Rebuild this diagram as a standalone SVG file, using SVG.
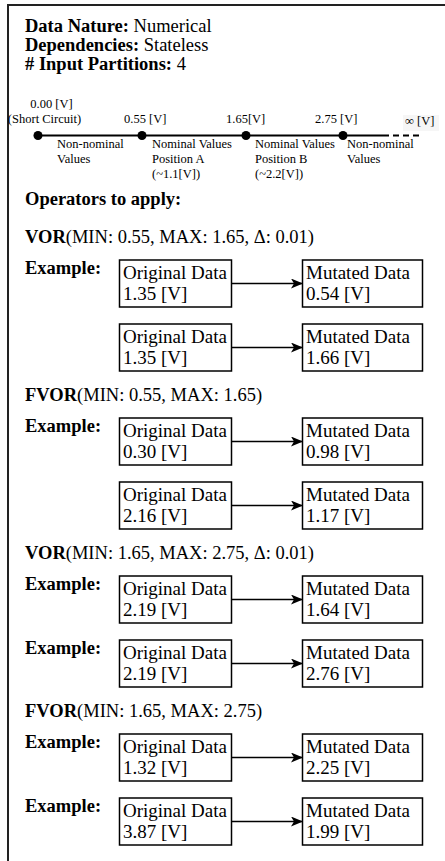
<svg xmlns="http://www.w3.org/2000/svg" width="445" height="861" viewBox="0 0 445 861">
<style>
text{font-family:"Liberation Serif","Times New Roman",serif;fill:#000}
.h{font-size:18.5px}
.s{font-size:12.5px}
.b{font-weight:bold}
.bx{fill:#fff;stroke:#000;stroke-width:1.5}
.t{font-size:19px}
.ln{stroke:#000;stroke-width:1.5;fill:none}
</style>
<defs>
<marker id="ah" viewBox="0 0 12 10" refX="11" refY="5" markerWidth="12" markerHeight="10" markerUnits="userSpaceOnUse" orient="auto">
<path d="M0,0 L12,5 L0,10 L3,5 Z" fill="#000"/>
</marker>
</defs>
<g id="frame">
<path d="M8,861 L8,5 L445,5" fill="none" stroke="#222" stroke-width="2"/>
</g>
<g id="header">
<text x="25" y="32" class="h"><tspan class="b">Data Nature:</tspan> Numerical</text>
<text x="25" y="51" class="h"><tspan class="b">Dependencies:</tspan> Stateless</text>
<text x="25" y="70" class="h"><tspan class="b"># Input Partitions:</tspan> 4</text>
</g>
<g id="numberline">
<rect x="403" y="115" width="36" height="16" fill="#f6f6f6"/>
<line x1="38" y1="135.5" x2="383" y2="135.5" stroke="#000" stroke-width="2"/>
<line x1="383" y1="135.5" x2="422" y2="135.5" stroke="#000" stroke-width="2" stroke-dasharray="6 4"/>
<circle cx="38" cy="135.5" r="4.5"/>
<circle cx="142" cy="135.5" r="4.5"/>
<circle cx="246" cy="135.5" r="4.5"/>
<circle cx="343" cy="135.5" r="4.5"/>
<text x="51.5" y="108" class="s" text-anchor="middle">0.00 [V]</text>
<text x="44.5" y="123" class="s" text-anchor="middle">(Short Circuit)</text>
<text x="124" y="123" class="s">0.55 [V]</text>
<text x="226" y="123" class="s">1.65[V]</text>
<text x="315" y="123" class="s">2.75 [V]</text>
<text x="405" y="125" class="s">∞ [V]</text>
<text x="57" y="148" class="s">Non-nominal</text>
<text x="57" y="163" class="s">Values</text>
<text x="152" y="148" class="s">Nominal Values</text>
<text x="152" y="163" class="s">Position A</text>
<text x="152" y="178" class="s">(~1.1[V])</text>
<text x="255" y="148" class="s">Nominal Values</text>
<text x="255" y="163" class="s">Position B</text>
<text x="255" y="178" class="s">(~2.2[V])</text>
<text x="347" y="148" class="s">Non-nominal</text>
<text x="347" y="163" class="s">Values</text>
</g>
<text x="25" y="205" class="h b">Operators to apply:</text>

<g id="sec1">
<text x="25" y="243" class="h"><tspan class="b">VOR</tspan>(MIN: 0.55, MAX: 1.65, Δ: 0.01)</text>
<text x="25" y="274" class="h b">Example:</text>
</g>
<g id="n1o"><rect x="119.5" y="260" width="112" height="47" class="bx"/><text x="123" y="279" class="t">Original Data</text><text x="123" y="300" class="t">1.35 [V]</text></g>
<g id="n1m"><rect x="302.5" y="260" width="120" height="47" class="bx"/><text x="306" y="279" class="t">Mutated Data</text><text x="306" y="300" class="t">0.54 [V]</text></g>
<g id="n2o"><rect x="119.5" y="324" width="112" height="47" class="bx"/><text x="123" y="343" class="t">Original Data</text><text x="123" y="364" class="t">1.35 [V]</text></g>
<g id="n2m"><rect x="302.5" y="324" width="120" height="47" class="bx"/><text x="306" y="343" class="t">Mutated Data</text><text x="306" y="364" class="t">1.66 [V]</text></g>

<g id="sec2">
<text x="25" y="401" class="h"><tspan class="b">FVOR</tspan>(MIN: 0.55, MAX: 1.65)</text>
<text x="25" y="432" class="h b">Example:</text>
</g>
<g id="n3o"><rect x="119.5" y="418" width="112" height="47" class="bx"/><text x="123" y="437" class="t">Original Data</text><text x="123" y="458" class="t">0.30 [V]</text></g>
<g id="n3m"><rect x="302.5" y="418" width="120" height="47" class="bx"/><text x="306" y="437" class="t">Mutated Data</text><text x="306" y="458" class="t">0.98 [V]</text></g>
<g id="n4o"><rect x="119.5" y="482" width="112" height="47" class="bx"/><text x="123" y="501" class="t">Original Data</text><text x="123" y="522" class="t">2.16 [V]</text></g>
<g id="n4m"><rect x="302.5" y="482" width="120" height="47" class="bx"/><text x="306" y="501" class="t">Mutated Data</text><text x="306" y="522" class="t">1.17 [V]</text></g>

<g id="sec3">
<text x="25" y="559" class="h"><tspan class="b">VOR</tspan>(MIN: 1.65, MAX: 2.75, Δ: 0.01)</text>
<text x="25" y="590" class="h b">Example:</text>
<text x="25" y="654" class="h b">Example:</text>
</g>
<g id="n5o"><rect x="119.5" y="576" width="112" height="47" class="bx"/><text x="123" y="595" class="t">Original Data</text><text x="123" y="616" class="t">2.19 [V]</text></g>
<g id="n5m"><rect x="302.5" y="576" width="120" height="47" class="bx"/><text x="306" y="595" class="t">Mutated Data</text><text x="306" y="616" class="t">1.64 [V]</text></g>
<g id="n6o"><rect x="119.5" y="640" width="112" height="47" class="bx"/><text x="123" y="659" class="t">Original Data</text><text x="123" y="680" class="t">2.19 [V]</text></g>
<g id="n6m"><rect x="302.5" y="640" width="120" height="47" class="bx"/><text x="306" y="659" class="t">Mutated Data</text><text x="306" y="680" class="t">2.76 [V]</text></g>

<g id="sec4">
<text x="25" y="717" class="h"><tspan class="b">FVOR</tspan>(MIN: 1.65, MAX: 2.75)</text>
<text x="25" y="748" class="h b">Example:</text>
<text x="25" y="812" class="h b">Example:</text>
</g>
<g id="n7o"><rect x="119.5" y="734" width="112" height="47" class="bx"/><text x="123" y="753" class="t">Original Data</text><text x="123" y="774" class="t">1.32 [V]</text></g>
<g id="n7m"><rect x="302.5" y="734" width="120" height="47" class="bx"/><text x="306" y="753" class="t">Mutated Data</text><text x="306" y="774" class="t">2.25 [V]</text></g>
<g id="n8o"><rect x="119.5" y="798" width="112" height="47" class="bx"/><text x="123" y="817" class="t">Original Data</text><text x="123" y="838" class="t">3.87 [V]</text></g>
<g id="n8m"><rect x="302.5" y="798" width="120" height="47" class="bx"/><text x="306" y="817" class="t">Mutated Data</text><text x="306" y="838" class="t">1.99 [V]</text></g>

<g id="connectors">
<line x1="231.5" y1="283.5" x2="302" y2="283.5" class="ln" marker-end="url(#ah)"/>
<line x1="231.5" y1="347.5" x2="302" y2="347.5" class="ln" marker-end="url(#ah)"/>
<line x1="231.5" y1="441.5" x2="302" y2="441.5" class="ln" marker-end="url(#ah)"/>
<line x1="231.5" y1="505.5" x2="302" y2="505.5" class="ln" marker-end="url(#ah)"/>
<line x1="231.5" y1="599.5" x2="302" y2="599.5" class="ln" marker-end="url(#ah)"/>
<line x1="231.5" y1="663.5" x2="302" y2="663.5" class="ln" marker-end="url(#ah)"/>
<line x1="231.5" y1="757.5" x2="302" y2="757.5" class="ln" marker-end="url(#ah)"/>
<line x1="231.5" y1="821.5" x2="302" y2="821.5" class="ln" marker-end="url(#ah)"/>
</g>
</svg>
